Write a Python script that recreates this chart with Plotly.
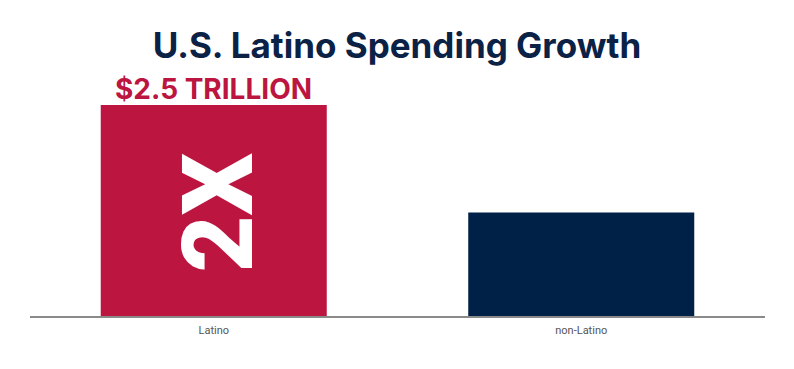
import plotly.graph_objects as go

categories = ["Latino", "non-Latino"]
values = [100, 49]
bar_colors = ["#BC153F", "#002147"]
title_text = "U.S. Latino Spending Growth"
top_label = "$2.5 TRILLION"
inner_label = "2X"

fig = go.Figure()
fig.add_trace(go.Bar(
    x=categories, y=values,
    marker=dict(color=bar_colors, line=dict(width=0)),
    width=0.615,
    hoverinfo="skip",
))

fig.add_annotation(
    x=categories[0], y=values[0], xref="x", yref="y",
    text=top_label, showarrow=False, yanchor="bottom", yshift=-3,
    font=dict(family="Inter", size=28, color="#BC153F", weight="bold"),
)
fig.add_annotation(
    x=categories[0], y=values[0] / 2, xref="x", yref="y",
    text=inner_label, showarrow=False, textangle=-90, xshift=5, yshift=-2,
    font=dict(family="Roboto", size=98, color="white", weight=900),
)

fig.update_layout(
    width=794, height=369,
    paper_bgcolor="white", plot_bgcolor="white",
    margin=dict(l=30, r=29, t=105, b=53),
    title=dict(text=title_text, x=0.5, xanchor="center", y=0.875, yanchor="middle",
               font=dict(family="Inter", size=35, color="#0B2145", weight="bold")),
    showlegend=False,
    bargap=0.385,
    xaxis=dict(showline=True, linecolor="#8a8a8a", linewidth=1.5, ticks="",
               tickfont=dict(family="Roboto", size=11, color="#555555"),
               ticklabelstandoff=3,
               showgrid=False, zeroline=False),
    yaxis=dict(range=[0, 100], visible=False, showgrid=False, zeroline=False),
)

fig.write_html("out.html", config={"displayModeBar": False},
               post_script="document.body.style.margin='0';")
